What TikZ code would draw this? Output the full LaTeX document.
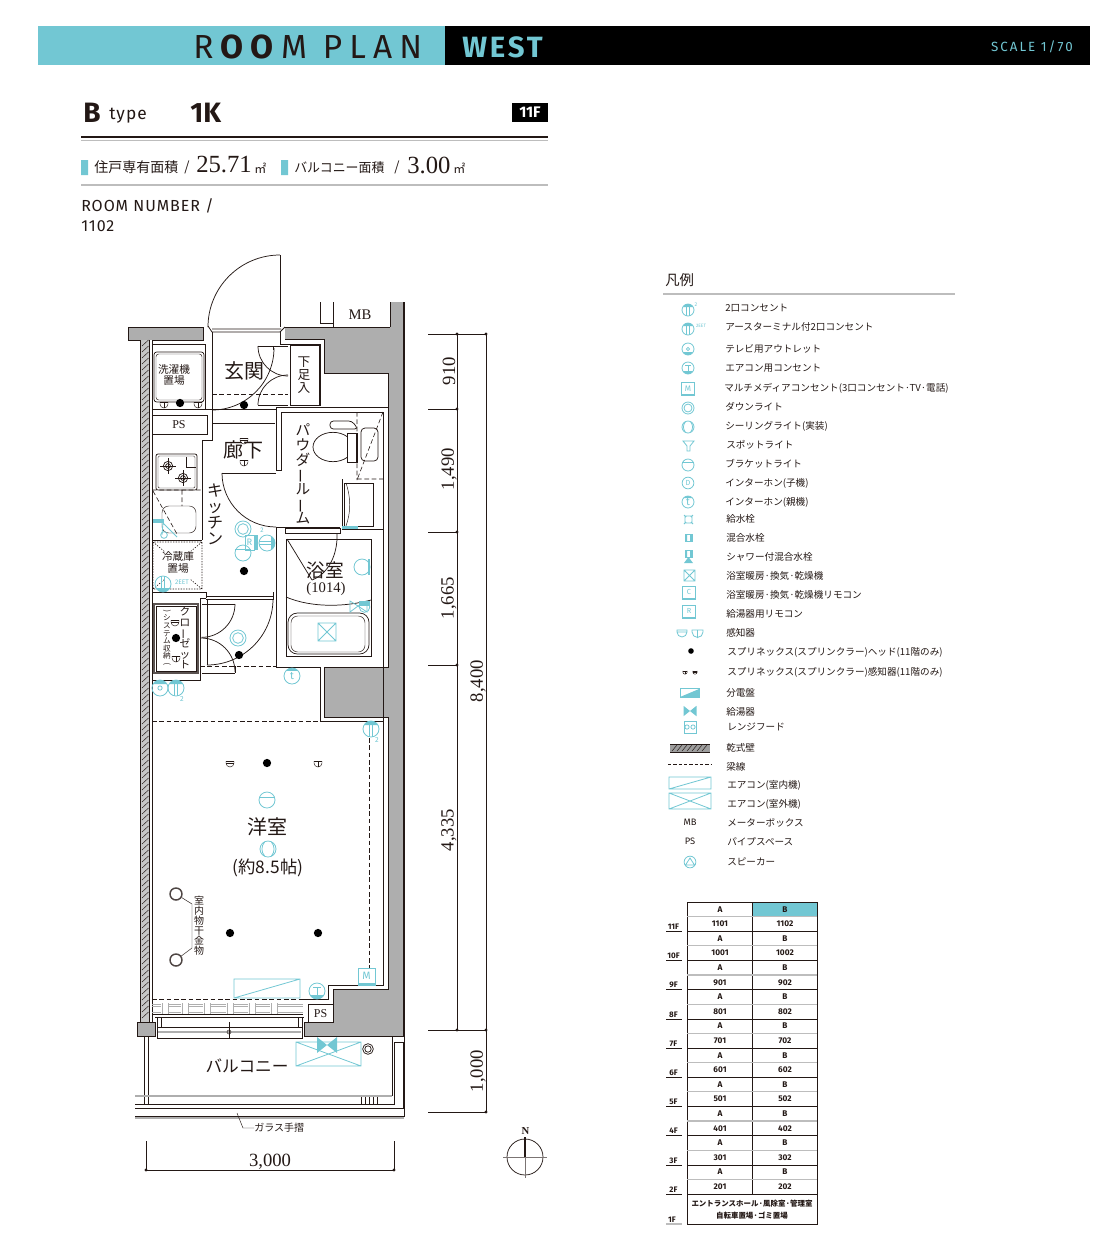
\documentclass[tikz,border=0pt]{standalone}
\usepackage{xcolor}
\usepackage{fontspec}
\setmainfont{Noto Sans CJK JP}
\newfontfamily\dinfont{Fira Sans}
\newfontfamily\numfont{Liberation Serif}
\usetikzlibrary{calc}
\definecolor{roomteal}{HTML}{72C7D3}
\definecolor{inkdark}{HTML}{231815}
\definecolor{wallgray}{HTML}{AEAEAE}
\definecolor{rulegray}{HTML}{BDBDBD}
\newcommand{\fs}[1]{\fontsize{#1}{#1}\selectfont\lineskiplimit=-20pt\relax}
\newcommand{\vb}{\rotatebox[origin=c]{90}{ー}}
\tikzset{%
  % Specifications for lines of the plan:
  ln/.style = {draw=inkdark, line width=.55pt},
  lnthin/.style = {draw=inkdark, line width=.35pt},
  lnbold/.style = {draw=inkdark, line width=.9pt},
  lndash/.style = {draw=inkdark, line width=.45pt, dash pattern=on 3.5pt off 2pt},
  cy/.style = {draw=roomteal, line width=.6pt},
  % Specifications for style of nodes:
  base/.style = {inner sep=0pt, text=inkdark, align=center},
  leglabel/.style = {base, anchor=west, font=\fs{7.2}},
  cell/.style = {base, font=\dinfont\bfseries\fs{6.2}},
  floorlabel/.style = {base, font=\dinfont\bfseries\fs{6}},
  dimlabel/.style = {base, rotate=90, font=\numfont\fs{14}},
  roomlabel/.style = {base, font=\fs{12}},
  dimdot/.style = {circle, fill=inkdark, inner sep=0pt, minimum size=2.4pt},
  sprinkler/.style = {circle, fill=black, inner sep=0pt, minimum size=6.2pt},
  % Symbols of the plan, drawn at 8px radius:
  outletsym/.pic = {
    \fill[roomteal] (30:6pt) arc[start angle=30, end angle=150, radius=6pt] -- cycle;
    \draw[cy] (0,0) circle[radius=6pt];
    \draw[cy] (-1.3pt,-5.8pt) -- (-1.3pt,5.8pt) (1.3pt,-5.8pt) -- (1.3pt,5.8pt);
  },
  tvsym/.pic = {
    \fill[roomteal] (30:6pt) arc[start angle=30, end angle=150, radius=6pt] -- cycle;
    \draw[cy] (0,0) circle[radius=6pt] (0,0) circle[radius=1.6pt];
  },
  acsym/.pic = {
    \fill[roomteal] (210:6pt) arc[start angle=210, end angle=330, radius=6pt] -- cycle;
    \draw[cy] (0,0) circle[radius=6pt];
    \draw[cy] (-3pt,3pt) -- (3pt,3pt) (0,3pt) -- (0,-3pt);
  },
  downsym/.pic = {\draw[cy] (0,0) circle[radius=6pt] (0,0) circle[radius=4pt];},
  ceilsym/.pic = {
    \draw[cy] (0,0) circle[radius=6pt];
    \draw[cy] (-2.6pt,-5.2pt) to[bend left=40] (-2.6pt,5.2pt) (2.6pt,-5.2pt) to[bend right=40] (2.6pt,5.2pt);
  },
  bracketsym/.pic = {
    \draw[cy] (0,0) circle[radius=6pt];
    \draw[cy] (-5.6pt,2.2pt) -- (5.6pt,2.2pt);
  },
  intersym/.pic = {
    \fill[roomteal] (40:6pt) arc[start angle=40, end angle=140, radius=6pt] -- cycle;
    \draw[cy] (0,0) circle[radius=6pt];
    \node[base, text=roomteal, font=\dinfont\fs{8}] (let) at (0,0) {t};
  },
  detectsym/.pic = {
    \draw[lnthin] (-3pt,1.5pt) -- (3pt,1.5pt) (-3pt,0) -- (3pt,0);
    \draw[lnthin] (-3pt,1.5pt) -- (-3pt,0) arc[start angle=180, end angle=360, radius=3pt] -- (3pt,1.5pt);
  },
  detectbsym/.pic = {
    \draw[lnthin] (-3pt,1.5pt) -- (3pt,1.5pt) (0,1.5pt) -- (0,-3pt);
    \draw[lnthin] (-3pt,1.5pt) -- (-3pt,0) arc[start angle=180, end angle=360, radius=3pt] -- (3pt,1.5pt);
  },
  boxsym/.pic = {
    \fill[roomteal] (-6.3pt,-6.3pt) rectangle (6.3pt,-4.6pt);
    \draw[cy] (-6.3pt,-6.3pt) rectangle (6.3pt,6.3pt);
  },
  heatersym/.pic = {
    \fill[roomteal] (-7.5pt,6pt) -- (0,0) -- (-7.5pt,-6pt) -- cycle (7.5pt,6pt) -- (0,0) -- (7.5pt,-6pt) -- cycle;
  },
}

\begin{document}
\begin{tikzpicture}[x=.75pt, y=-.75pt]
  \useasboundingbox (0,0) rectangle (1120,1240);
  % Title band
  \fill[roomteal] (38,26) rectangle (445,65);
  \fill[black] (445,26) rectangle (1090,65);
  \node(Plantitle)[base, anchor=west, font=\dinfont\fs{25}] at (193,47) {\addfontfeature{LetterSpace=21.5}R\textbf{OO}M PLAN};
  \node(Wing)[base, anchor=west, text=roomteal, font=\dinfont\bfseries\fs{22}] at (462,47) {\addfontfeature{LetterSpace=9.5}WEST};
  \node(Scale)[base, anchor=east, text=roomteal, font=\dinfont\fs{10}] at (1073,47) {\addfontfeature{LetterSpace=15}SCALE 1/70};
  % Type and areas
  \node(Typeb)[base, anchor=west, font=\dinfont\bfseries\fs{21}] at (83,113) {B};
  \node(Typeword)[base, anchor=west, font=\dinfont\fs{13}] at (109,116) {\addfontfeature{LetterSpace=6}type};
  \node(Layout)[base, anchor=west, font=\dinfont\bfseries\fs{21}] at (190,113) {1K};
  \node(Floorbox)[fill=black, text=white, minimum width=27pt, minimum height=14pt, inner sep=0pt, font=\dinfont\bfseries\fs{11.5}] at (530,112.5) {11F};
  \draw[inkdark, line width=1.4pt] (81,137) -- (548,137);
  \draw[rulegray, line width=1pt] (81,140.5) -- (548,140.5);
  \draw[rulegray, line width=1pt] (81,185) -- (548,185);
  \fill[roomteal] (81,160) rectangle (88,175) (281,160) rectangle (288,175);
  \node(Areaone)[base, anchor=west, font=\fs{10.5}] at (94,167.5) {住戸専有面積};
  \node(Slashone)[base, font=\fs{10}] at (187,167) {/};
  \node(Areaval)[base, anchor=west, font=\numfont\fs{18.5}] at (196,165) {25.71};
  \node(Areaunit)[base, anchor=west, font=\fs{9}] at (254,168) {㎡};
  \node(Areatwo)[base, anchor=west, font=\fs{9.7}] at (294,167.5) {バルコニー面積};
  \node(Slashtwo)[base, font=\fs{10}] at (397,167) {/};
  \node(Balval)[base, anchor=west, font=\numfont\fs{18.5}] at (407,165) {3.00};
  \node(Balunit)[base, anchor=west, font=\fs{9}] at (453,168) {㎡};
  \node(Numhead)[base, anchor=west, font=\dinfont\fs{12}] at (81,205.5) {\addfontfeature{LetterSpace=6}ROOM NUMBER /};
  \node(Numval)[base, anchor=west, font=\dinfont\fs{12}] at (81,226) {\addfontfeature{LetterSpace=6}1102};

  % Concrete walls
  \fill[wallgray] (285,327) -- (333,327) -- (390,327) -- (390,302) -- (404,302) -- (404,1036) -- (304,1036) -- (304,1022) -- (333,1022)
    -- (333,989) -- (388,989) -- (388,717) -- (324,717) -- (324,667) -- (388,667) -- (388,373) -- (324,373) -- (324,339) -- (285,339) -- cycle;
  \fill[wallgray] (128,327) rectangle (203,340);
  \draw[ln] (203,327) -- (128,327) -- (128,340) -- (203,340) -- (203,327);
  \draw[ln] (285,327) -- (390,327) (285,339) -- (324,339) -- (324,373) -- (388,373) -- (388,667) -- (324,667) -- (324,717) -- (388,717) -- (388,989) -- (333,989) -- (333,1022) -- (304,1022) -- (304,1036) -- (404,1036);
  \draw[lnbold] (404,302) -- (404,1036);
  \draw[ln] (390,302) -- (390,327) (333,302) -- (333,327) (320,302) -- (320,323) -- (333,323);
  \node(Mbox)[roomlabel, font=\numfont\fs{11}] at (360,315) {MB};

  % Dry wall on the left
  \fill[wallgray!70] (140,340) rectangle (152,1022);
  \fill[white] (149.5,340) rectangle (152,1022);
  \foreach \hy in {340,346,...,1016} {
    \draw[lnthin] (142,\hy+6) -- (148.5,\hy);
  }
  \draw[ln] (140.5,340) -- (140.5,1022) (149,340) -- (149,1022) (152,340) -- (152,1022);
  \fill[wallgray] (137,1022) rectangle (155,1036);
  \draw[ln] (137,1022) rectangle (155,1036);

  % Entrance door and hall
  \draw[ln] (280,255) -- (280,327);
  \draw[ln] (280,255) arc[start angle=90, end angle=180, radius=54pt];
  \draw[ln] (208,326) -- (212,332) -- (280,332) -- (285,327) (212,329) -- (281,329);
  \draw[ln] (212,332) -- (212,409) (280,332) -- (280,344) -- (320,344) -- (320,405) -- (290,405);
  \draw[lnthin] (290,345) rectangle (319,405);
  \draw[lndash] (212,394) -- (288,394);
  \draw[ln] (212,347) -- (212,410);
  \draw[ln] (212,410) arc[start angle=-90, end angle=0, radius=46.5pt];
  \draw[ln] (258,346) -- (288,346) (258,405) -- (288,405);
  \draw[ln] (258,346) arc[start angle=180, end angle=270, radius=22.5pt];
  \draw[ln] (258,405) arc[start angle=180, end angle=90, radius=22.5pt];
  \draw[lnthin] (273,346) -- (273,350);
  \node(Genkan)[roomlabel, font=\fs{15}] at (244,371) {玄関};
  \node(Shoebox)[roomlabel, font=\fs{9.5}] at (304,375) {下\\足\\入};
  \node(Mbdot)[sprinkler] at (244,405) {};

  % Washer space and PS
  \draw[ln] (152,344) -- (205,344) -- (205,409);
  \draw[ln] (152,409) -- (276,409) (152,415) -- (207,415) -- (207,434) -- (152,434);
  \draw[ln] (212,409) -- (212,423) (212,423) -- (275,423) (212,423) -- (212,440) -- (202,440) -- (202,540);
  \draw[ln, rounded corners=2pt] (154,352) rectangle (204,402);
  \draw[lnthin, rounded corners=2pt] (156,354) rectangle (202,400);
  \node(Washer)[roomlabel, font=\fs{8}] at (174,375) {洗濯機\\置場};
  \pic at (164,404) {detectbsym};
  \pic at (198,404) {detectbsym};
  \node(Washdot)[sprinkler] at (180,403) {};
  \node(Psone)[roomlabel, font=\numfont\fs{9}] at (179,425) {PS};

  % Kitchen
  \draw[ln, rounded corners=1.5pt] (156,454) rectangle (197,490);
  \draw[lnthin, rounded corners=1pt] (158,456) rectangle (195,488);
  \draw[lnthin] (186,457) -- (186,467) -- (196,467);
  \foreach \bx/\by in {168/466, 183/478} {
    \draw[ln] (\bx,\by) circle[radius=3.5pt] (\bx,\by) circle[radius=1.8pt];
    \draw[ln] (\bx-8,\by) -- (\bx+8,\by) (\bx,\by-8) -- (\bx,\by+8);
  }
  \draw[lnthin, rounded corners=5pt] (162,506) rectangle (196,533);
  \draw[lndash] (152,490) -- (202,490) (182,490) -- (182,506) (153,491) -- (177,534);
  \draw[cy] (156,520) -- (163,523) -- (177,537) (163,523) -- (162,535);
  \fill[roomteal] (153,519) rectangle (164,523);
  \draw[cy] (164,535) circle[radius=2.5pt];
  \draw[ln] (152,540) -- (202,540);
  \node(Kitchen)[roomlabel, font=\fs{12}] at (215,514) {キ\\ッ\\チ\\ン};
  \node(Rouka)[roomlabel, font=\fs{15}] at (243,450) {廊下};
  \pic at (244,440) {detectsym};
  \pic at (244,462) {detectbsym};
  % Kitchen door
  \draw[ln] (222,473) -- (276,473);
  \draw[ln] (222,473) arc[start angle=180, end angle=270, radius=40.5pt];
  \draw[ln] (276,407) -- (388,407) (276,407) -- (276,470) -- (281,470) -- (281,412) -- (383,412) -- (383,597);
  \draw[ln] (276,527) -- (276,667) -- (320,667) -- (320,721) -- (383,721) -- (383,985) -- (328,985) -- (328,999) -- (303,999);
  \draw[lnthin] (383,597) -- (383,721);

  % Powder room
  \node(Powder)[roomlabel, font=\fs{11}] at (303,474) {パ\\ウ\\ダ\\\vb\\ル\\\vb\\ム};
  \draw[ln] (333,447) ellipse[x radius=15pt, y radius=11pt];
  \fill[white] (347,431) rectangle (357,463);
  \draw[ln] (347,433) rectangle (357,462);
  \draw[lnbold] (357,433) -- (357,462);
  \draw[ln, rounded corners=2.5pt] (330,421) -- (352,421) -- (358,429) -- (338,429) -- (330,429) -- cycle;
  \draw[ln, rounded corners=3pt] (361,428) rectangle (378,461);
  \draw[lndash] (357,412) -- (357,480) (383,412) -- (357,480) (357,479) -- (383,479);
  \draw[ln] (342,479) -- (342,529);
  \draw[ln] (383,479) -- (383,529);
  \draw[lnthin] (344,483) rectangle (373,526);
  \draw[lnthin] (346,483) .. controls (351,498) and (351,512) .. (346,526);
  \fill[roomteal] (342,526) rectangle (358,529);
  \draw[ln] (276,527) -- (340,527) (342,529) -- (383,529);

  % Bathroom
  \draw[ln] (285,528) rectangle (340,533);
  \draw[ln] (286,539) rectangle (371,656);
  \draw[ln] (287,539) -- (312,580);
  \draw[ln] (312,580) .. controls (328,574) and (338,555) .. (337,533);
  \draw[ln] (286,597) .. controls (312,608) and (345,607) .. (371,600);
  \draw[ln, rounded corners=7pt] (288,613) rectangle (369,654);
  \draw[lnthin, rounded corners=5pt] (291,616) rectangle (365,652);
  \draw[wallgray, line width=1.4pt] (298,613) -- (308,613) (350,613) -- (360,613) (298,654) -- (308,654) (350,654) -- (360,654);
  \node(Bath)[roomlabel, font=\fs{14}] at (325,570) {浴室};
  \node(Bathsize)[roomlabel, font=\numfont\fs{11}] at (326,588.5) {(1014)};
  \draw[cy] (318,623) rectangle (336,641) (318,623) -- (336,641) (318,641) -- (336,623);
  \draw[cy] (362,567) circle[radius=6pt];
  \fill[roomteal] (368,559) rectangle (370,575);
  \draw[cy] (350,601) -- (358,606) -- (350,612) -- cycle;
  \draw[cy] (367,601) -- (358,606) -- (367,612) -- cycle;
  \draw[cy] (364.5,607) circle[radius=4pt];
  \fill[roomteal] (359,601) rectangle (370,606);

  % Kitchen symbols
  \pic at (243,529) {downsym};
  \draw[cy] (245,535) rectangle (254,550);
  \fill[roomteal] (254,535) rectangle (258,550);
  \node(Remote)[base, text=roomteal, font=\dinfont\fs{7}] at (249.5,542) {R};
  \pic[rotate=-90] at (267,543) {outletsym};
  \node(Remtwo)[base, text=roomteal, font=\dinfont\fs{5}] at (262,530) {2};
  \draw[cy] (243,553) circle[radius=6pt];
  \draw[cy] (235,549) -- (251,549);
  \node(Kitdot)[sprinkler] at (244,571) {};

  % Fridge space
  \draw[lndash, dash pattern=on 1pt off 1pt] (153,542) rectangle (202,589) (153,542) -- (165,552) (202,542) -- (190,552) (153,589) -- (165,579) (202,589) -- (190,579);
  \draw[ln] (152,592) -- (207,592) (206,592) -- (206,598);
  \node(Fridge)[roomlabel, font=\fs{8}] at (178,562.5) {冷蔵庫\\[1.6pt]置場};
  \pic[rotate=180] at (163,584) {outletsym};
  \node(Eet)[base, text=roomteal, font=\dinfont\fs{5}] at (182,582) {2EET};

  % Closet and storage door
  \draw[ln] (152,680) -- (200,680) -- (200,598) -- (206,598);
  \draw[lnbold, draw=inkdark!75] (154,604) rectangle (198,673);
  \draw[lnthin] (156,606) rectangle (196,671);
  \node(Closet)[roomlabel, font=\fs{8}] at (185,638) {ク\\ロ\\\vb\\ゼ\\ッ\\ト};
  \node(System)[roomlabel, font=\fs{5.7}] at (167,638) {\rotatebox[origin=c]{90}{(}\\シ\\ス\\テ\\ム\\収\\納\\\rotatebox[origin=c]{90}{)}};
  \node(Closetdot)[sprinkler] at (176,638) {};
  \pic at (175,622) {detectsym};
  \pic at (176,658) {detectbsym};
  \draw[ln] (206,596) -- (274,596) (206,599) -- (274,599) (273,592) -- (273,599);
  \draw[ln] (207,599) -- (207,665);
  \draw[ln] (207,665) arc[start angle=-90, end angle=0, radius=49.5pt];
  \draw[ln] (202,604) -- (235,604) (202,673) -- (235,673) (235,666) -- (235,673);
  \draw[ln] (235,604) arc[start angle=0, end angle=-90, radius=25pt];
  \draw[ln] (201,638) arc[start angle=90, end angle=0, radius=25.5pt];
  \draw[lndash] (200,666) -- (276,666);
  \pic at (238,638) {downsym};
  \node(Halldot)[sprinkler] at (239,655) {};
  \pic at (292,676) {intersym};
  \pic at (160,688) {tvsym};
  \pic at (176,688) {outletsym};
  \node(Twoa)[base, text=roomteal, font=\dinfont\fs{5.5}] at (182,699) {2};

  % Western room
  \draw[lndash] (152,721) -- (320,721);
  \draw[lndash] (369,738) -- (369,968);
  \pic at (371,729) {outletsym};
  \node(Twob)[base, text=roomteal, font=\dinfont\fs{5.5}] at (377,740) {2};
  \pic at (230,763) {detectsym};
  \pic at (318,763) {detectbsym};
  \node(Roomdota)[sprinkler] at (267,763) {};
  \pic at (267,800) {bracketsym};
  \node(Youshitsu)[roomlabel, font=\fs{15}] at (267,827) {洋室};
  \pic at (268,849) {ceilsym};
  \node(Tatami)[roomlabel, font=\fs{13}] at (268,868) {(約8.5帖)};
  \node(Roomdotb)[sprinkler] at (230,933) {};
  \node(Roomdotc)[sprinkler] at (318,933) {};
  \node(Hookone)[circle, draw=inkdark!80, line width=1.1pt, minimum size=9pt, inner sep=0pt] at (176,894) {};
  \node(Hooktwo)[circle, draw=inkdark!80, line width=1.1pt, minimum size=9pt, inner sep=0pt] at (176,960) {};
  \coordinate(Barone) at (192,904);
  \coordinate(Bartwo) at (192,948);
  \draw[lnthin] (Hookone) -- (Barone) -- (Bartwo) -- (Hooktwo);
  \node(Drying)[roomlabel, font=\fs{7.5}] at (199,926) {室\\内\\物\\干\\金\\物};
  \draw[cy] (234,979) rectangle (300,998) (234,998) -- (300,979);
  \pic at (317,991) {acsym};
  \pic at (366.5,976.5) {boxsym};
  \node(Multim)[base, text=roomteal, font=\dinfont\fs{8}] at (366.5,976) {M};
  \draw[ln] (308,1004) rectangle (333,1022);
  \node(Pstwo)[roomlabel, font=\numfont\fs{9}] at (320.5,1014) {PS};

  % Window sash
  \draw[lndash] (152,999) -- (303,999);
  \draw[wallgray, line width=.6pt] (152,1004) -- (303,1004) (152,1006) -- (303,1006) (152,1012) -- (303,1012);
  \draw[ln] (152,1014.5) -- (303,1014.5);
  \foreach \mx in {165,185,207,230,252,274} {
    \fill[white] (\mx-4,1003) rectangle (\mx+4,1013);
    \draw[lnthin, wallgray] (\mx-3,1003) -- (\mx-3,1014) (\mx+3,1003) -- (\mx+3,1014);
  }
  \draw[ln] (157,1017) rectangle (302,1038);
  \draw[ln] (157,1027) -- (302,1027);
  \draw[wallgray, line width=1pt] (158,1032) -- (301,1032);
  \draw[ln] (161,1017) -- (161,1027) (298,1017) -- (298,1027) (155,1017) -- (304,1017);
  \draw[lnthin] (229,1022) -- (229,1038);
  \draw[lnthin] (229,1032) circle[radius=1.5pt];
  % Balcony
  \draw[ln] (144,1036) -- (144,1104) (148,1036) -- (148,1104);
  \draw[ln] (392,1036) -- (392,1096);
  \draw[wallgray, line width=.9pt] (135,1096) -- (392,1096);
  \draw[ln] (135,1104) -- (394,1104) -- (394,1042) -- (403,1042) -- (403,1108) -- (135,1108);
  \draw[ln] (135,1116) -- (404,1116) -- (404,1036);
  \draw[wallgray, line width=.9pt] (135,1118) -- (404,1118);
  \foreach \tx in {361,365,369,373,377} {
    \draw[lnthin] (\tx,1097) -- (\tx,1104);
  }
  \draw[cy] (296,1042) rectangle (361,1066) (296,1042) -- (361,1066) (296,1066) -- (361,1042);
  \pic at (327,1045) {heatersym};
  \draw[ln] (368,1049) circle[radius=4pt] (368,1049) circle[radius=2.4pt];
  \node(Balcony)[roomlabel, font=\fs{12.5}] at (247,1066) {バルコニー};
  \node(Glass)[base, anchor=west, font=\fs{7.5}] at (254,1128) {ガラス手摺};
  \coordinate(Glasstip) at (237,1113);
  \coordinate(Glassknee) at (243,1128);
  \draw[lnthin] (Glasstip) -- (Glassknee) -- (Glass.west);

  % Dimension lines
  \draw[lnthin] (486,334) -- (486,1112) (457,334) -- (457,1030);
  \foreach \dy/\dx in {334/486, 409/457, 532/457, 665/457, 1030/486, 1112/486} {
    \draw[lnthin] (428,\dy) -- (\dx,\dy);
    \node[dimdot] at (\dx,\dy) {};
  }
  \node[dimdot] at (457,334) {};
  \node[dimdot] at (457,1030) {};
  \node(Dimone)[dimlabel] at (449,371) {910};
  \node(Dimtwo)[dimlabel] at (449,469) {1,490};
  \node(Dimthree)[dimlabel] at (449,598) {1,665};
  \node(Dimfour)[dimlabel] at (449,830) {4,335};
  \node(Dimall)[dimlabel] at (478,681) {8,400};
  \node(Dimbal)[dimlabel] at (478,1071) {1,000};
  \draw[lnthin] (146,1141) -- (146,1170) -- (394,1170) -- (394,1141);
  \node[dimdot] at (146,1170) {};
  \node[dimdot] at (394,1170) {};
  \node(Dimwidth)[base, font=\numfont\fs{14}] at (270,1162) {3,000};

  % Compass
  \draw[ln] (525,1157) circle[radius=13.5pt];
  \draw[lnthin, draw=inkdark!60] (525,1137) -- (525,1178) (503,1157) -- (547,1157);
  \draw[draw=inkdark, line width=1.5pt] (525,1137) -- (525,1157);
  \node(North)[base, font=\numfont\bfseries\fs{8}] at (525.5,1130.5) {N};

  % Legend
  \node(Legtitle)[base, anchor=west, font=\fs{10.8}] at (665,280) {凡例};
  \draw[rulegray, line width=1pt] (663,294) -- (955,294);
  \foreach \legtxt/\legy/\legx [count=\k] in {%
    2口コンセント/308/725, アースターミナル付2口コンセント/327/725, テレビ用アウトレット/349/725,
    エアコン用コンセント/368/725, マルチメディアコンセント(3口コンセント·TV·電話)/388/724,
    ダウンライト/407/725, シーリングライト(実装)/426/725, スポットライト/445/726, ブラケットライト/464/725,
    インターホン(子機)/483/725, インターホン(親機)/502/725, 給水栓/519/726, 混合水栓/538/726,
    シャワー付混合水栓/557/726, 浴室暖房·換気·乾燥機/576/726, 浴室暖房·換気·乾燥機リモコン/595/726,
    給湯器用リモコン/614/726, 感知器/633/726, スプリネックス(スプリンクラー)ヘッド(11階のみ)/652/727,
    スプリネックス(スプリンクラー)感知器(11階のみ)/672/727, 分電盤/693/726, 給湯器/712/726,
    レンジフード/727/727, 乾式壁/748/726, 梁線/767/726, エアコン(室内機)/785/727, エアコン(室外機)/804/727,
    メーターボックス/823/727, パイプスペース/842/727, スピーカー/862/727} {
    \node(Leg\k)[leglabel] at (\legx,\legy) {\legtxt};
  }
  % Legend symbols
  \pic[scale=.75] at (688,310) {outletsym};
  \node(Legtwo)[base, text=roomteal, font=\dinfont\fs{4}] at (696,305) {2};
  \pic[scale=.75] at (688,329) {outletsym};
  \node(Legeet)[base, text=roomteal, font=\dinfont\fs{3.6}] at (701,326) {2EET};
  \pic[scale=.75, rotate=180] at (688,349) {tvsym};
  \pic[scale=.75] at (688,368) {acsym};
  \pic[scale=.75] at (688,389) {boxsym};
  \node(Legm)[base, text=roomteal, font=\dinfont\fs{6}] at (688,388.5) {M};
  \pic[scale=.75] at (688,408) {downsym};
  \pic[scale=.75] at (688,427) {ceilsym};
  \draw[cy] (683,441) -- (694,441) -- (690,446) -- (690,451) -- (687,451) -- (687,446) -- cycle;
  \pic[scale=.75] at (688,465) {bracketsym};
  \draw[cy] (688,483) circle[radius=4.4pt];
  \node(Legd)[base, text=roomteal, font=\dinfont\fs{5.5}] at (688,483) {D};
  \pic[scale=.75] at (688,502) {intersym};
  \draw[cy] (685,516) rectangle (692,523) (684,515) -- (686,517) (693,515) -- (691,517) (684,524) -- (686,522) (693,524) -- (691,522);
  \draw[cy] (685,534) rectangle (692,541);
  \fill[roomteal] (685,534) rectangle (687,541) (690,534) rectangle (692,541);
  \draw[cy] (685,550) rectangle (692,557);
  \fill[roomteal] (685,550) rectangle (687,557) (690,550) rectangle (692,557);
  \fill[roomteal] (688.5,557) -- (684,563) -- (693,563) -- cycle;
  \draw[cy] (684,570) rectangle (695,581) (684,570) -- (695,581) (684,581) -- (695,570);
  \pic[scale=.75] at (689,593) {boxsym};
  \node(Legc)[base, text=roomteal, font=\dinfont\fs{5.5}] at (689,592) {C};
  \pic[scale=.75] at (689,612) {boxsym};
  \node(Legr)[base, text=roomteal, font=\dinfont\fs{5.5}] at (689,611) {R};
  \draw[cy] (677,630) -- (687,630) -- (687,632) arc[start angle=0, end angle=-180, radius=3.75pt] -- cycle (677,632) -- (687,632);
  \draw[cy] (692,630) -- (703,630) -- (703,632) arc[start angle=0, end angle=-180, radius=4.1pt] -- cycle (697.5,630) -- (697.5,638);
  \node(Legdot)[sprinkler, minimum size=4.2pt] at (691,651) {};
  \pic[scale=.55] at (685,672) {detectbsym};
  \pic[scale=.55] at (695,672) {detectsym};
  \draw[cy] (680,688) rectangle (699,697);
  \fill[roomteal] (680,697) -- (699,697) -- (699,689) -- cycle;
  \pic[scale=.65] at (690,711) {heatersym};
  \draw[cy] (684,721) rectangle (696,733);
  \draw[cy] (687,727) circle[radius=1.6pt] (693,727) circle[radius=1.6pt];
  \fill[wallgray!90!black] (670,744) rectangle (710,752);
  \draw[lnthin] (670,744) -- (710,744) (670,752) -- (710,752);
  \foreach \hx in {672,677,...,705} {
    \draw[lnthin] (\hx,751) -- (\hx+5,745);
  }
  \draw[lndash, line width=.3pt, dash pattern=on 2.5pt off 1.5pt] (668,764) -- (712,764);
  \draw[cy] (669,777) rectangle (711,789) (669,789) -- (711,777);
  \draw[cy] (669,793) rectangle (711,809) (669,793) -- (711,809) (669,809) -- (711,793);
  \node(Legmb)[base, font=\dinfont\fs{7}] at (690,822) {MB};
  \node(Legps)[base, font=\dinfont\fs{7}] at (690,841) {PS};
  \draw[cy] (690,862) circle[radius=4.4pt] (690,858) -- (685.5,865) -- (694.5,865) -- cycle;

  % Floor table
  \fill[roomteal] (752,902) rectangle (817,916.6);
  \draw[ln] (687,902) rectangle (817,1224) (752,902) -- (752,1194) (687,902) -- (817,902);
  \foreach \fa/\fb/\fl [count=\k from 0] in {1101/1102/11F, 1001/1002/10F, 901/902/9F, 801/802/8F, 701/702/7F,
      601/602/6F, 501/502/5F, 401/402/4F, 301/302/3F, 201/202/2F} {
    \pgfmathsetmacro{\ya}{909.3+29.2*\k}
    \pgfmathsetmacro{\yb}{923.9+29.2*\k}
    \pgfmathsetmacro{\yg}{916.6+29.2*\k}
    \pgfmathsetmacro{\yl}{931.2+29.2*\k}
    \node(Cella\k)[cell] at (720,\ya) {A};
    \node(Cellb\k)[cell] at (785,\ya) {B};
    \node(Roomb\k)[cell] at (785,\yb) {\fb};
    \node(Rooma\k)[cell] at (720,\yb) {\fa};
    \draw[rulegray, line width=1pt] (687,\yg) -- (817,\yg);
    \draw[lnthin] (687,\yl) -- (817,\yl);
    \draw[lnthin] (666,\yl) -- (682,\yl);
    \node(Floor\k)[floorlabel] at (673.5,\yl-4.5) {\fl};
  }
  \draw[rulegray, line width=1pt] (666,1224) -- (682,1224);
  \node(Floorone)[floorlabel] at (672,1219.5) {1F};
  \node(Lobby)[base, font=\bfseries\fs{5.6}, align=center] at (752,1209.5) {エントランスホール·風除室·管理室\\[3pt]自転車置場·ゴミ置場};
\end{tikzpicture}
\end{document}
